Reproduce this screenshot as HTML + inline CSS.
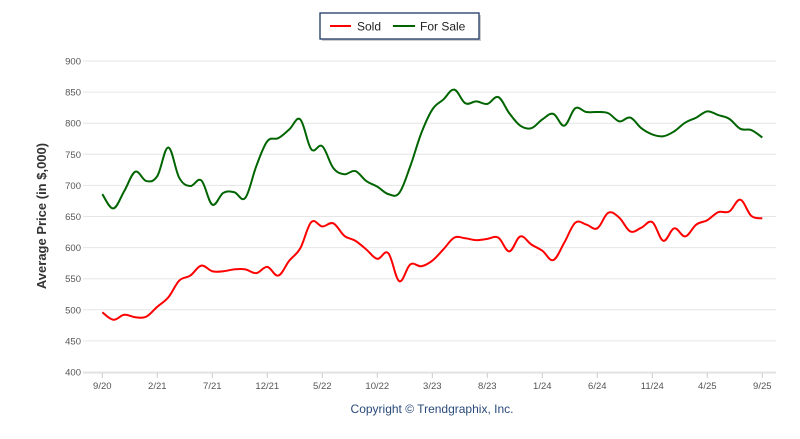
<!DOCTYPE html>
<html><head><meta charset="utf-8"><style>
body{margin:0;background:#fff;}
svg text{font-family:"Liberation Sans",Arial,sans-serif;}
</style></head><body>
<svg width="800" height="434" viewBox="0 0 800 434" xmlns="http://www.w3.org/2000/svg">
<g id="grid"></g>
<g id="yticks"></g>
<g id="xticks"></g>
<g id="series"></g>
<text x="46" y="216" transform="rotate(-90 46 216)" text-anchor="middle" font-size="13" font-weight="bold" fill="#333">Average Price (in $,000)</text>
<text x="432" y="413" text-anchor="middle" font-size="12" fill="#2a4a7a">Copyright © Trendgraphix, Inc.</text>
<g>
<rect x="322" y="15" width="159" height="26" fill="#aaa" opacity="0.6"/>
<rect x="320" y="13" width="159" height="26" fill="#fff" stroke="#1f3864" stroke-width="1.3"/>
<g><line x1="330" y1="26" x2="351" y2="26" stroke="#ff0000" stroke-width="2"/><text x="357" y="30.5" font-size="12" fill="#222">Sold</text></g>
<g><line x1="393" y1="26" x2="415" y2="26" stroke="#006400" stroke-width="2"/><text x="420" y="30.5" font-size="12" fill="#222">For Sale</text></g>
</g>
</svg>
<script>
const xLabels=["9/20","2/21","7/21","12/21","5/22","10/22","3/23","8/23","1/24","6/24","11/24","4/25","9/25"];
const yTicks=[400,450,500,550,600,650,700,750,800,850,900];
const soldValues=[496,484,492,488,489,505,520,547,555,571,562,562,565,565,559,569,555,579,599,641,634,639,619,611,597,582,591,546,573,570,579,597,616,615,612,614,616,594,618,605,595,580,608,640,637,631,656,648,626,632,641,611,631,618,637,644,657,658,677,651,647];
const forSaleValues=[686,663,691,722,707,715,761,712,699,708,669,688,689,680,731,771,776,790,806,758,763,728,718,723,707,698,686,688,731,784,822,838,854,832,835,831,842,816,796,792,806,815,796,824,818,818,816,803,809,792,782,779,787,801,809,819,813,807,791,789,777];
const NS='http://www.w3.org/2000/svg';
const x0=102.3,dx=11,yTop=61,yBot=372;
function xs(i){return x0+i*dx;}
function ys(v){return yBot-(v-400)/500*(yBot-yTop);}
const grid=document.getElementById('grid'),yt=document.getElementById('yticks'),xt=document.getElementById('xticks'),ser=document.getElementById('series');
yTicks.forEach(v=>{
 const l=document.createElementNS(NS,'line');
 
 
 l.setAttribute('x1',83);l.setAttribute('x2',776);l.setAttribute('y1',ys(v));l.setAttribute('y2',ys(v));
 l.setAttribute('stroke','#e6e6e6');l.setAttribute('stroke-width','1');grid.appendChild(l);
 const t=document.createElementNS(NS,'text');
 
 
 t.setAttribute('x',81);t.setAttribute('y',ys(v)+3.5);t.setAttribute('text-anchor','end');t.setAttribute('font-size','9.5');t.setAttribute('fill','#555');
 t.textContent=v;yt.appendChild(t);
});
const ax=document.createElementNS(NS,'line');


ax.setAttribute('x1',83);ax.setAttribute('x2',776);ax.setAttribute('y1',yBot+1);ax.setAttribute('y2',yBot+1);ax.setAttribute('stroke','#ddd');xt.appendChild(ax);
xLabels.forEach((s,k)=>{
 const x=xs(k*5);
 const tk=document.createElementNS(NS,'line');
 
 
 tk.setAttribute('x1',x);tk.setAttribute('x2',x);tk.setAttribute('y1',yBot+1);tk.setAttribute('y2',yBot+6);tk.setAttribute('stroke','#ccc');xt.appendChild(tk);
 const t=document.createElementNS(NS,'text');
 
 
 t.setAttribute('x',x);t.setAttribute('y',389);t.setAttribute('text-anchor','middle');t.setAttribute('font-size','9.5');t.setAttribute('fill','#555');
 t.textContent=s;xt.appendChild(t);
});
function path(vals){
 const p=vals.map((v,i)=>[xs(i),ys(v)]);
 let d='M'+p[0][0]+','+p[0][1];
 for(let i=0;i<p.length-1;i++){
  const a=p[i-1]||p[i],b=p[i],c=p[i+1],e=p[i+2]||c,t=0.18;
  d+=' C'+(b[0]+(c[0]-a[0])*t)+','+(b[1]+(c[1]-a[1])*t)+' '+(c[0]-(e[0]-b[0])*t)+','+(c[1]-(e[1]-b[1])*t)+' '+c[0]+','+c[1];
 }
 return d;
}
[[forSaleValues,'#006400','for-sale-line'],[soldValues,'#ff0000','sold-line']].forEach(([v,c,n])=>{
 const pa=document.createElementNS(NS,'path');
 
 
 pa.setAttribute('d',path(v));pa.setAttribute('fill','none');pa.setAttribute('stroke',c);pa.setAttribute('stroke-width','2');
 ser.appendChild(pa);
});
</script>
</body></html>
